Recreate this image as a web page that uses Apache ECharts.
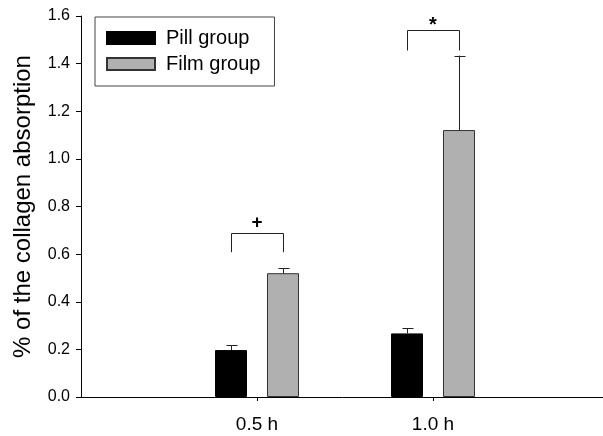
<!DOCTYPE html>
<html>
<head>
<meta charset="utf-8">
<script src="https://cdn.jsdelivr.net/npm/echarts@6/dist/echarts.min.js"></script>
<style>
  html, body { margin: 0; padding: 0; background: #fff; }
  #chart { width: 603px; height: 436px; }
</style>
</head>
<body>
<div id="chart"></div>
<script>
// ---- data ----
var categories = ['0.5 h', '1.0 h'];
var pillValues = [0.197, 0.267];
var pillErrors = [0.020, 0.021];
var filmValues = [0.520, 1.121];
var filmErrors = [0.022, 0.313];
var yTicks = [0.0, 0.2, 0.4, 0.6, 0.8, 1.0, 1.2, 1.4, 1.6];
// significance brackets
var bracketCats = ['0.5 h', '1.0 h'];
var bracketTops = [0.690, 1.540];
var bracketLegs = [0.608, 1.455];
var bracketMarks = ['+', '*'];

// ---- styling constants ----
var FONT = 'Liberation Sans, Arial, Helvetica, sans-serif';
var BAR_W = 32;
var BAR_GAP_PX = 20;
var HALF = (BAR_W + BAR_GAP_PX) / 2;

var xData = [''].concat(categories).concat(['']);
function pad(arr) { return [null].concat(arr).concat([null]); }

var errData = [];
categories.forEach(function (c, i) {
  errData.push([c, pillValues[i], pillErrors[i], -1]);
  errData.push([c, filmValues[i], filmErrors[i], 1]);
});
var bracketData = bracketCats.map(function (c, i) {
  return [c, bracketTops[i], bracketLegs[i], i];
});

var chart = echarts.init(document.getElementById('chart'));
chart.setOption({
  animation: false,
  backgroundColor: '#ffffff',
  textStyle: { fontFamily: FONT, color: '#000' },
  grid: { left: 81, top: 16, bottom: 39, width: 528, containLabel: false, outerBoundsMode: 'none' },
  legend: {
    left: 95, top: 17,
    orient: 'vertical',
    data: ['Pill group', 'Film group'],
    icon: 'rect',
    itemWidth: 48, itemHeight: 12, itemGap: 6,
    borderColor: '#444', borderWidth: 1,
    padding: [11, 14, 12, 11],
    textStyle: { fontFamily: FONT, fontSize: 20, color: '#000', padding: [0, 0, 0, 6] }
  },
  xAxis: {
    type: 'category',
    data: xData,
    boundaryGap: false,
    axisLine: { lineStyle: { color: '#000', width: 1 } },
    axisTick: {
      show: true, length: 4, inside: false,
      interval: function (i) { return i > 0 && i < xData.length - 1; },
      lineStyle: { color: '#000' }
    },
    axisLabel: {
      interval: 0, margin: 18,
      fontFamily: FONT, fontSize: 19, color: '#000'
    },
    splitLine: { show: false }
  },
  yAxis: {
    type: 'value',
    min: yTicks[0], max: yTicks[yTicks.length - 1], interval: 0.2,
    name: '% of the collagen absorption',
    nameLocation: 'middle',
    nameGap: 46,
    nameTextStyle: { fontFamily: FONT, fontSize: 24, color: '#000' },
    axisLine: { show: true, lineStyle: { color: '#000', width: 1 } },
    axisTick: { show: true, length: 5, lineStyle: { color: '#000' } },
    axisLabel: {
      margin: 11, fontFamily: FONT, fontSize: 16, color: '#000',
      formatter: function (v) { return v.toFixed(1); }
    },
    splitLine: { show: false }
  },
  series: [
    {
      name: 'Pill group', type: 'bar',
      data: pad(pillValues),
      barWidth: BAR_W, barGap: (BAR_GAP_PX / BAR_W * 100) + '%',
      itemStyle: { color: '#000', borderColor: '#000', borderWidth: 1 }
    },
    {
      name: 'Film group', type: 'bar',
      data: pad(filmValues),
      barWidth: BAR_W,
      itemStyle: { color: '#b0b0b0', borderColor: '#333', borderWidth: 1 }
    },
    {
      type: 'custom', name: 'errors', z: 5,
      data: errData,
      encode: { x: 0, y: 1 },
      renderItem: function (params, api) {
        var side = api.value(3);
        var base = api.coord([api.value(0), api.value(1)]);
        var top = api.coord([api.value(0), api.value(1) + api.value(2)]);
        var x = Math.round(base[0] + side * HALF) + 0.5;
        var st = { stroke: '#222', lineWidth: 1 };
        return {
          type: 'group',
          children: [
            { type: 'line', shape: { x1: x, y1: base[1], x2: x, y2: top[1] }, style: st },
            { type: 'line', shape: { x1: x - 5, y1: Math.round(top[1]) + 0.5, x2: x + 6, y2: Math.round(top[1]) + 0.5 }, style: st }
          ]
        };
      }
    },
    {
      type: 'custom', name: 'brackets', z: 5,
      data: bracketData,
      encode: { x: 0, y: 1 },
      renderItem: function (params, api) {
        var t = api.coord([api.value(0), api.value(1)]);
        var l = api.coord([api.value(0), api.value(2)]);
        var xl = Math.round(t[0] - HALF) + 0.5;
        var xr = Math.round(t[0] + HALF) + 0.5;
        var yt = Math.round(t[1]) + 0.5;
        var mark = bracketMarks[api.value(3)];
        var st = { stroke: '#222', lineWidth: 1, fill: null };
        return {
          type: 'group',
          children: [
            { type: 'polyline', shape: { points: [[xl, l[1]], [xl, yt], [xr, yt], [xr, l[1]]] }, style: st },
            { type: 'text', style: {
                text: mark,
                x: t[0], y: yt + (mark === '*' ? 5 : -1),
                textAlign: 'center', textVerticalAlign: 'bottom',
                font: (mark === '*' ? 'bold 20px ' : 'bold 19px ') + FONT, fill: '#000'
              } }
          ]
        };
      }
    }
  ]
});
</script>
</body>
</html>
